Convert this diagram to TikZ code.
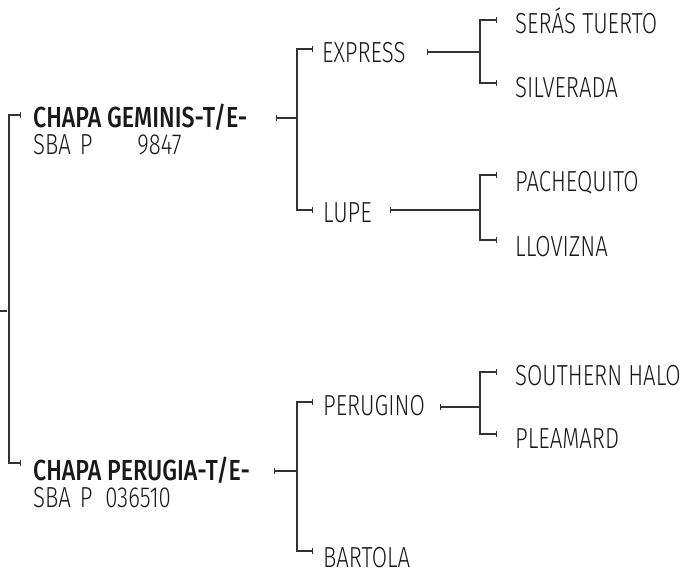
\documentclass[tikz,border=0pt]{standalone}
\usepackage{fontspec}
\setmainfont{Fira Sans}[FakeStretch=0.765, UprightFont=* Light, BoldFont=* Medium, BoldFeatures={FakeStretch=0.8}]
\usetikzlibrary{arrows.meta}
\begin{document}
\begin{tikzpicture}[x=1pt,y=-1pt,
  lbl/.style={anchor=base west,inner sep=0pt,text=black!90,font=\fontsize{29}{31}\selectfont},
  blbl/.style={lbl,font=\fontsize{29}{31}\selectfont\bfseries},
  conn/.style={line width=1.3pt,draw=black!80},
  bothbar/.style={{Bar[width=6pt,line width=1.3pt]}-{Bar[width=6pt,line width=1.3pt]}},
  leftbar/.style={{Bar[width=6pt,line width=1.3pt]}-}]
\useasboundingbox (0,0) rectangle (683,574);
% labels (baseline = cap centre + 10)
\node[blbl] (gem) at (33,127) {CHAPA GEMINIS-T/E-};
\node[lbl] (gemreg) at (33,154) {SBA\hspace{9pt}P\hspace{45pt}9847};
\node[blbl] (pga) at (33,480) {CHAPA PERUGIA-T/E-};
\node[lbl] (pgareg) at (33,507) {SBA\hspace{9pt}P\hspace{13pt}036510};
\node[lbl] (exp) at (322,62) {EXPRESS};
\node[lbl] (lup) at (323,222) {LUPE};
\node[lbl] (pru) at (323,415) {PERUGINO};
\node[lbl] (bar) at (323,567) {BARTOLA};
\node[lbl] (ser) at (515,33) {SERÁS TUERTO};
\node[lbl] (sil) at (515,97) {SILVERADA};
\node[lbl] (pac) at (515,191) {PACHEQUITO};
\node[lbl] (llo) at (515,256) {LLOVIZNA};
\node[lbl] (sou) at (515,385) {SOUTHERN HALO};
\node[lbl] (ple) at (515,448) {PLEAMARD};
% connector points
\coordinate (r0) at (0,311);
\coordinate (r1) at (7,311);
\coordinate (rt) at (9,115);
\coordinate (rb) at (9,463);
\coordinate (gemIn) at (21,115);
\coordinate (pgaIn) at (21,463);
\coordinate (gemOut) at (276,118);
\coordinate (jG) at (297,118);
\coordinate (expIn) at (313,49);
\coordinate (lupIn) at (313,210);
\coordinate (pgaOut) at (274,471);
\coordinate (jPg) at (297,471);
\coordinate (pruIn) at (313,402);
\coordinate (barIn) at (313,551);
\coordinate (expOut) at (427,52);
\coordinate (jE) at (480,52);
\coordinate (serIn) at (497,20);
\coordinate (silIn) at (497,83);
\coordinate (lupOut) at (390,210);
\coordinate (jL) at (480,210);
\coordinate (pacIn) at (497,175);
\coordinate (lloIn) at (497,240);
\coordinate (pruOut) at (440,407);
\coordinate (jP) at (480,407);
\coordinate (souIn) at (497,372);
\coordinate (pleIn) at (497,434);
% connectors
\draw[conn] (r0) -- (r1);
\draw[conn,bothbar] (gemIn) -- (rt) -- (rb) -- (pgaIn);
\draw[conn,leftbar] (gemOut) -- (jG);
\draw[conn,bothbar] (expIn) -| (jG) |- (lupIn);
\draw[conn,leftbar] (pgaOut) -- (jPg);
\draw[conn,bothbar] (pruIn) -| (jPg) |- (barIn);
\draw[conn,leftbar] (expOut) -- (jE);
\draw[conn,bothbar] (serIn) -| (jE) |- (silIn);
\draw[conn,leftbar] (lupOut) -- (jL);
\draw[conn,bothbar] (pacIn) -| (jL) |- (lloIn);
\draw[conn,leftbar] (pruOut) -- (jP);
\draw[conn,bothbar] (souIn) -| (jP) |- (pleIn);
\end{tikzpicture}
\end{document}
